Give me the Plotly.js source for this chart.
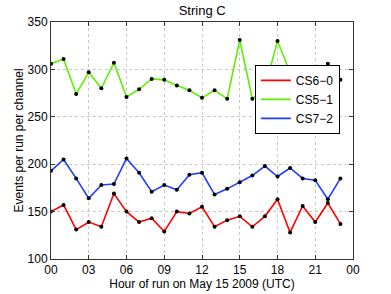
<!DOCTYPE html>
<html>
<head>
<meta charset="utf-8">
<script src="https://cdn.plot.ly/plotly-3.0.1.min.js"></script>
<style>html,body{margin:0;padding:0;background:#fff;}#chart{width:391px;height:294px;}</style>
</head>
<body>
<div id="chart"></div>
<script>
const hours = [0,1,2,3,4,5,6,7,8,9,10,11,12,13,14,15,16,17,18,19,20,21,22,23];
const cs60 = [150,157,131,139,134,169,150,139,143,129,150,148,155,134,141,145,134,145,163,128,156,139,159,137];
const cs51 = [306,311,274,297,280,307,271,279,290,289,283,278,270,278,269,331,269,280,330,297,285,287,306,289];
const cs72 = [193,205,185,164,178,179,206,191,171,178,173,189,191,168,174,181,188,198,187,196,185,183,163,185];
const seriesNames = ['CS6\u22120','CS5\u22121','CS7\u22122'];
const seriesColors = ['#ff0000','#5cf000','#1f3fff'];
const tickVals = [0,3,6,9,12,15,18,21,24];
const tickText = ['00','03','06','09','12','15','18','21','00'];
const yTicks = [100,150,200,250,300,350];

const series = [cs60, cs51, cs72];
const traces = [];
series.forEach((s, i) => {
  traces.push({x: hours, y: s, type: 'scatter', mode: 'lines', name: seriesNames[i],
    line: {color: seriesColors[i], width: 1.6}});
});
series.forEach((s, i) => {
  traces.push({x: hours, y: s, type: 'scatter', mode: 'markers', showlegend: false, hoverinfo: 'skip',
    marker: {color: '#000', size: 4}});
});

const fontFam = 'Liberation Sans, Arial, sans-serif';
const layout = {
  width: 391, height: 294,
  margin: {l: 51, r: 38, t: 22, b: 35},
  paper_bgcolor: '#fff', plot_bgcolor: '#fff',
  font: {family: fontFam, size: 12, color: '#000'},
  title: {text: 'String C', font: {size: 13, family: fontFam, color: '#000'}, x: 0.517, xanchor: 'center', y: 0.965, yanchor: 'middle'},
  showlegend: true,
  legend: {x: 0.675, y: 0.819, xanchor: 'left', yanchor: 'top', bgcolor: '#fff', bordercolor: '#000', borderwidth: 1,
    font: {size: 12, family: fontFam}, itemwidth: 30, tracegroupgap: 0},
  xaxis: {range: [0, 24], tickvals: tickVals, ticktext: tickText, showgrid: true, gridcolor: '#c8c8c8', griddash: 'dot', gridwidth: 1,
    zeroline: false, showline: true, linecolor: '#333', linewidth: 1, mirror: 'ticks', ticks: 'inside', ticklen: 4, tickcolor: '#333',
    tickfont: {size: 12, family: fontFam},
    title: {text: 'Hour of run on May 15 2009 (UTC)', font: {size: 12, family: fontFam}, standoff: 0}},
  yaxis: {range: [100, 350], tickvals: yTicks, showgrid: true, gridcolor: '#c8c8c8', griddash: 'dot', gridwidth: 1,
    zeroline: false, showline: true, linecolor: '#333', linewidth: 1, mirror: 'ticks', ticks: 'inside', ticklen: 4, tickcolor: '#333',
    tickfont: {size: 12, family: fontFam},
    title: {text: 'Events per run per channel', font: {size: 12, family: fontFam}, standoff: 1}}
};
Plotly.newPlot('chart', traces, layout, {displayModeBar: false, staticPlot: true});
</script>
</body>
</html>
